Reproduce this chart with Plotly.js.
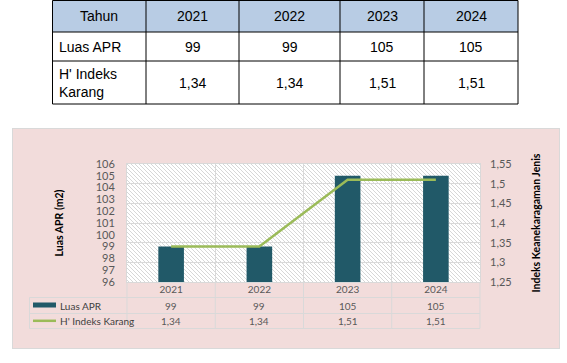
<!DOCTYPE html>
<html><head><meta charset="utf-8">
<script src="https://cdn.plot.ly/plotly-3.0.1.min.js"></script>
<style>html,body{margin:0;padding:0;background:#fff;} #chart{width:567px;height:363px;}</style>
</head><body><div id="chart"></div>
<script>
// ---- data ----
const years = ['2021', '2022', '2023', '2024'];
const luasAPR = [99, 99, 105, 105];
const indeksKarang = [1.34, 1.34, 1.51, 1.51];
const seriesNames = ['Luas APR', "H' Indeks Karang"];
const tableHeader = 'Tahun';
const tableRowLabels = ['Luas APR', "H' Indeks<br>Karang"];
const leftTitle = 'Luas APR (m2)';
const rightTitle = 'Indeks Keanekaragaman Jenis';

// ---- layout helpers ----
const W = 567, H = 363;
const px = v => v / W;
const py = v => 1 - v / H;
const fmt = v => String(v).replace('.', ',');

const barColor = '#215968';
const lineColor = '#9BBB59';
const gridColor = '#D9D9D9';
const txtGrey = '#595959';
const chartFont = 'Lato, "Open Sans", sans-serif';
const tableFont = '"Liberation Sans", Arial, sans-serif';

const shapes = [];
const annotations = [];

// ---- top table (built from the data arrays) ----
const colEdges = [52.5, 146, 239, 340, 424, 518];
const rowEdges = [0.5, 32, 61, 104];
shapes.push({type:'rect', xref:'paper', yref:'paper', x0:px(colEdges[0]), x1:px(colEdges[5]), y0:py(rowEdges[0]), y1:py(rowEdges[1]), fillcolor:'#B8CCE4', line:{width:0}, layer:'below'});
rowEdges.forEach(r => shapes.push({type:'line', xref:'paper', yref:'paper', x0:px(colEdges[0]), x1:px(colEdges[5]), y0:py(r), y1:py(r), line:{color:'#000', width:1}}));
colEdges.forEach(c => shapes.push({type:'line', xref:'paper', yref:'paper', x0:px(c), x1:px(c), y0:py(rowEdges[0]), y1:py(rowEdges[3]), line:{color:'#000', width:1}}));
const colCenter = i => (colEdges[i] + colEdges[i + 1]) / 2;
const rowCenter = j => (rowEdges[j] + rowEdges[j + 1]) / 2;
const tfont = {family: tableFont, size: 14, color: '#000'};
annotations.push({xref:'paper', yref:'paper', x:px(colCenter(0)), y:py(rowCenter(0)), text:tableHeader, showarrow:false, xanchor:'center', yanchor:'middle', font:tfont});
years.forEach((yr, i) => annotations.push({xref:'paper', yref:'paper', x:px(colCenter(i + 1)), y:py(rowCenter(0)), text:yr, showarrow:false, xanchor:'center', yanchor:'middle', font:tfont}));
const tableRows = [luasAPR, indeksKarang];
tableRows.forEach((vals, j) => {
  annotations.push({xref:'paper', yref:'paper', x:px(57), y:py(rowCenter(j + 1)), text:tableRowLabels[j], showarrow:false, xanchor:'left', yanchor:'middle', align:'left', font:tfont});
  vals.forEach((v, i) => annotations.push({xref:'paper', yref:'paper', x:px(colCenter(i + 1)), y:py(rowCenter(j + 1)), text:fmt(v), showarrow:false, xanchor:'center', yanchor:'middle', font:tfont}));
});

// ---- chart data table below the plot ----
const plotL = 127, plotR = 480, plotT = 164, plotB = 282;
const catW = (plotR - plotL) / years.length;
const dtRows = [297.5, 313.5, 328.5];
const dtLeft = 29.5;
dtRows.forEach(r => shapes.push({type:'line', xref:'paper', yref:'paper', x0:px(dtLeft), x1:px(plotR), y0:py(r), y1:py(r), line:{color:gridColor, width:1}}));
shapes.push({type:'line', xref:'paper', yref:'paper', x0:px(dtLeft), x1:px(dtLeft), y0:py(dtRows[0]), y1:py(dtRows[2]), line:{color:gridColor, width:1}});
for (let k = 0; k <= years.length; k++) {
  const xx = plotL + k * catW;
  shapes.push({type:'line', xref:'paper', yref:'paper', x0:px(xx), x1:px(xx), y0:py(plotB), y1:py(dtRows[2]), line:{color:gridColor, width:1}});
}
// legend keys
shapes.push({type:'rect', xref:'paper', yref:'paper', x0:px(33), x1:px(56), y0:py(302.5), y1:py(307.5), fillcolor:barColor, line:{width:0}});
shapes.push({type:'line', xref:'paper', yref:'paper', x0:px(33), x1:px(56), y0:py(320.8), y1:py(320.8), line:{color:lineColor, width:2.5}});
const dtFont = {family: chartFont, size: 10, color: txtGrey};
const dtCenters = [(dtRows[0] + dtRows[1]) / 2, (dtRows[1] + dtRows[2]) / 2];
seriesNames.forEach((n, j) => annotations.push({xref:'paper', yref:'paper', x:px(58), y:py(dtCenters[j]), text:n, showarrow:false, xanchor:'left', yanchor:'middle', font:{family:chartFont, size:10, color:'#404040'}}));
[luasAPR, indeksKarang].forEach((vals, j) => vals.forEach((v, i) => annotations.push({xref:'x', yref:'paper', x:i, y:py(dtCenters[j]), text:fmt(v), showarrow:false, xanchor:'center', yanchor:'middle', font:dtFont})));

// ---- background images (chart area + hatched plot area) ----
const pinkW = 548, pinkH = 221;
const pinkSvg = `<svg xmlns="http://www.w3.org/2000/svg" width="${pinkW}" height="${pinkH}" viewBox="0 0 ${pinkW} ${pinkH}"><rect x="0.5" y="0.5" width="${pinkW - 1}" height="${pinkH - 1}" fill="#F2DCDB" stroke="#D9D9D9" stroke-width="1"/></svg>`;
const hW = plotR - plotL, hH = plotB - plotT;
const hatchSvg = `<svg xmlns="http://www.w3.org/2000/svg" width="${hW}" height="${hH}" viewBox="0 0 ${hW} ${hH}"><defs><pattern id="p" width="4" height="4" patternUnits="userSpaceOnUse"><path d="M-1,-1 L5,5 M-1,3 L1,5 M3,-1 L5,1" stroke="#CDCDCD" stroke-width="0.8"/></pattern></defs><rect width="${hW}" height="${hH}" fill="#FFFFFF"/><rect width="${hW}" height="${hH}" fill="url(#p)"/></svg>`;
const uri = s => 'data:image/svg+xml;charset=utf-8,' + encodeURIComponent(s);
const images = [
  {source:uri(pinkSvg), xref:'paper', yref:'paper', x:px(12), y:py(128), sizex:pinkW / W, sizey:pinkH / H, xanchor:'left', yanchor:'top', sizing:'stretch', layer:'below'},
  {source:uri(hatchSvg), xref:'paper', yref:'paper', x:px(plotL), y:py(plotT), sizex:hW / W, sizey:hH / H, xanchor:'left', yanchor:'top', sizing:'stretch', layer:'below'}
];

// ---- traces ----
const traces = [
  {type:'bar', name:seriesNames[0], x:years, y:luasAPR, marker:{color:barColor}, yaxis:'y', hoverinfo:'skip'},
  {type:'scatter', mode:'lines', name:seriesNames[1], x:years, y:indeksKarang, line:{color:lineColor, width:2.5}, yaxis:'y2', hoverinfo:'skip'}
];

const layout = {
  width: W, height: H,
  margin: {l:0, r:0, t:0, b:0},
  paper_bgcolor: '#FFFFFF', plot_bgcolor: 'rgba(0,0,0,0)',
  separators: ',.',
  showlegend: false,
  bargap: 0.71,
  font: {family: chartFont, size: 10, color: txtGrey},
  xaxis: {domain:[px(plotL), px(plotR)], type:'category', range:[-0.5, 3.5], tickson:'boundaries',
          showgrid:true, gridcolor:gridColor, showline:true, linecolor:gridColor, mirror:true, ticks:'',
          tickfont:{family:chartFont, size:10, color:txtGrey}, ticklabelstandoff:-2, fixedrange:true},
  yaxis: {domain:[py(plotB), py(plotT)], range:[96, 106], tick0:96, dtick:1, showgrid:false, zeroline:false,
          showline:true, linecolor:gridColor, mirror:true, ticks:'', ticklabelstandoff:9,
          tickfont:{family:chartFont, size:11, color:txtGrey}, fixedrange:true,
          title:{text:leftTitle, font:{family:chartFont, size:10.5, color:'#000', weight:700}, standoff:29}},
  yaxis2: {overlaying:'y', side:'right', range:[1.25, 1.55], tick0:1.25, dtick:0.05, showgrid:true, gridcolor:gridColor,
           zeroline:false, ticks:'', ticklabelstandoff:9, tickfont:{family:chartFont, size:11, color:txtGrey}, fixedrange:true,
           title:{text:rightTitle, font:{family:chartFont, size:10.5, color:'#000', weight:700}, standoff:22}},
  shapes: shapes,
  annotations: annotations,
  images: images
};

Plotly.newPlot('chart', traces, layout, {displayModeBar:false, staticPlot:true});
</script>
</body></html>
